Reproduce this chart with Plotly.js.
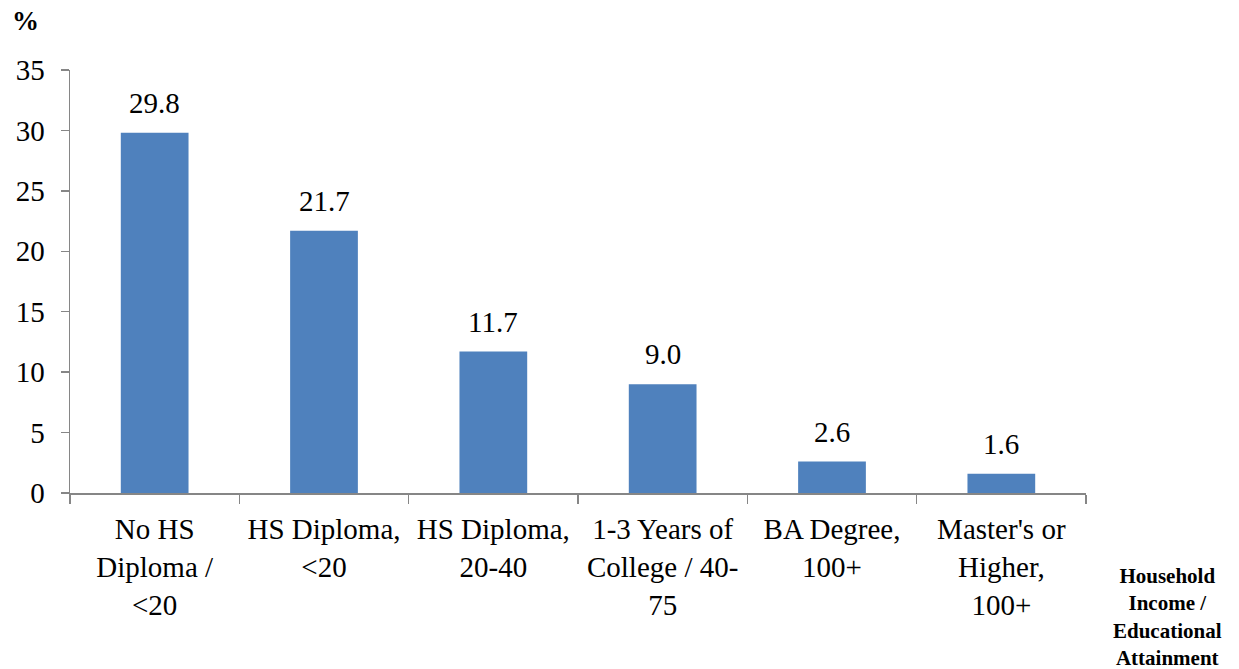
<!DOCTYPE html>
<html>
<head>
<meta charset="utf-8">
<script src="https://cdn.plot.ly/plotly-3.0.1.min.js"></script>
<style>html,body{margin:0;padding:0;background:#fff;}#chart{width:1239px;height:669px;}</style>
</head>
<body>
<div id="chart"></div>
<script>
var categories = ["No HS<br>Diploma /<br><20", "HS Diploma,<br><20", "HS Diploma,<br>20-40", "1-3 Years of<br>College / 40-<br>75", "BA Degree,<br>100+", "Master's or<br>Higher,<br>100+"];
var values = [29.8, 21.7, 11.7, 9.0, 2.6, 1.6];
var valueLabels = ["29.8", "21.7", "11.7", "9.0", "2.6", "1.6"];
var yTicks = [0, 5, 10, 15, 20, 25, 30, 35];

var font = "Liberation Serif";

var trace = {
  type: "bar",
  x: categories,
  y: values,
  marker: {color: "#4F81BD"},
  width: 0.4,
  hoverinfo: "none"
};

var labelAnns = categories.map(function (c, i) {
  return {
    x: c, y: values[i], xref: "x", yref: "y",
    text: valueLabels[i], showarrow: false,
    xanchor: "center", yanchor: "bottom", yshift: 12,
    font: {family: font, size: 29, color: "#000"}
  };
});

var layout = {
  width: 1239, height: 669,
  margin: {l: 70, r: 153, t: 70, b: 176},
  paper_bgcolor: "#fff", plot_bgcolor: "#fff",
  showlegend: false,
  font: {family: font, size: 29, color: "#000"},
  xaxis: {
    type: "category",
    showline: true, linecolor: "#868686", linewidth: 1.5,
    ticks: "outside", tickson: "boundaries", ticklen: 9, tickcolor: "#868686", tickwidth: 1.5,
    showgrid: false, zeroline: false,
    ticklabelstandoff: 10,
    tickfont: {family: font, size: 29, color: "#000"},
    tickangle: 0
  },
  yaxis: {
    range: [0, 35],
    tickvals: yTicks,
    ticktext: yTicks.map(String),
    showline: true, linecolor: "#868686", linewidth: 1.5,
    ticks: "outside", ticklen: 8, tickcolor: "#868686", tickwidth: 1.5,
    showgrid: false, zeroline: false,
    ticklabelstandoff: 10,
    tickfont: {family: font, size: 29, color: "#000"}
  },
  annotations: labelAnns.concat([
    {text: "<b>%</b>", xref: "paper", yref: "paper", x: -0.044, y: 1.117, xanchor: "center", yanchor: "middle", showarrow: false, font: {family: font, size: 27, color: "#000"}},
    {text: "<b>Household<br>Income /<br>Educational<br>Attainment</b>", xref: "paper", yref: "paper", x: 1.08, y: -0.162, xanchor: "center", yanchor: "top", showarrow: false, align: "center", font: {family: font, size: 21, color: "#000"}}
  ])
};

Plotly.newPlot("chart", [trace], layout, {staticPlot: true});
</script>
</body>
</html>
